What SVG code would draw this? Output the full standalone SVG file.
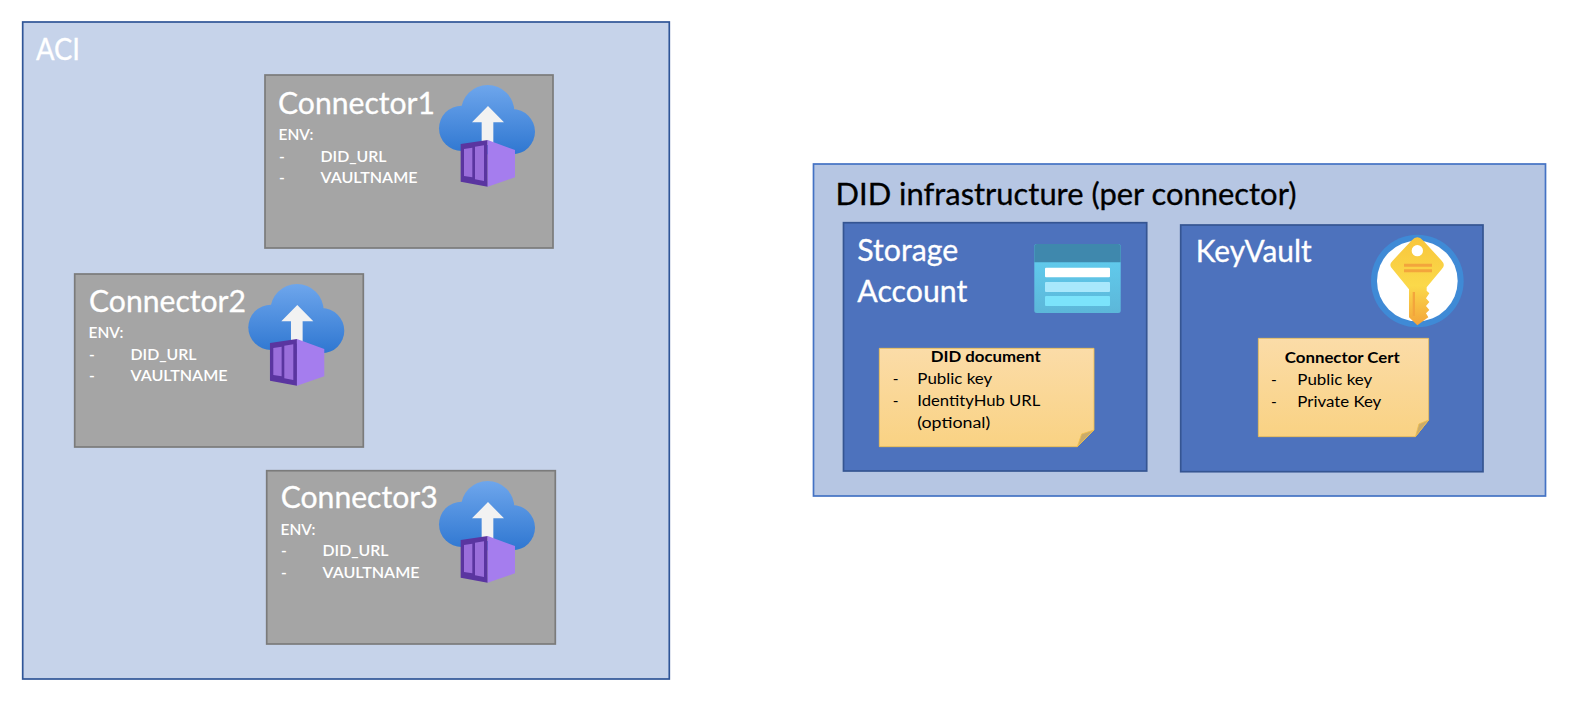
<svg xmlns="http://www.w3.org/2000/svg" width="1578" height="712" viewBox="0 0 1578 712">
<style>
text{font-family:Lato,"Liberation Sans",sans-serif;white-space:pre}
.big{font-size:30px;fill:#fff;stroke:#fff;stroke-width:0.3}
.dark{font-size:30px;fill:#000;stroke:#000;stroke-width:0.3}
.env{font-size:15.5px;fill:#fff;font-weight:600}
.note{font-size:15.5px;fill:#000}
.nb{font-size:15.5px;fill:#000;font-weight:700;text-anchor:middle}
.cbox{fill:#a5a5a5;stroke:#7b7b7b;stroke-width:1.7}
.ibox{fill:#4d72bd;stroke:#355592;stroke-width:1.7}
</style>
<defs>
<linearGradient id="cloudG" gradientUnits="userSpaceOnUse" x1="0" y1="45" x2="0" y2="252"><stop offset="0" stop-color="#6ea6ec"/><stop offset="1" stop-color="#2f77d1"/></linearGradient>
<linearGradient id="noteG" x1="0" y1="0" x2="0" y2="1"><stop offset="0" stop-color="#fbdca8"/><stop offset="1" stop-color="#f9d283"/></linearGradient>
<linearGradient id="keyG" gradientUnits="userSpaceOnUse" x1="0" y1="22" x2="0" y2="286"><stop offset="0" stop-color="#f8c63c"/><stop offset="0.55" stop-color="#fbd94a"/><stop offset="1" stop-color="#f3a43a"/></linearGradient>
<linearGradient id="stG" x1="0" y1="0" x2="0" y2="1"><stop offset="0" stop-color="#62d0f2"/><stop offset="1" stop-color="#5cb7d9"/></linearGradient>
<g id="aciIcon" transform="translate(260,70) scale(0.33333)">
<g fill="url(#cloudG)"><circle cx="683" cy="125" r="80"/><circle cx="605" cy="175" r="68"/><circle cx="757" cy="185" r="68"/><rect x="605" y="150" width="152" height="103"/></g>
<path fill="#f2f2f2" d="M684 108L732 157H700V225H665V157H636Z"/>
<path fill="#5a35a0" d="M602 222L683 210V350L602 335Z"/>
<path fill="#a57dee" d="M683 210L765 240V322L683 350Z"/>
<path fill="#9a6edb" d="M612 237L637 233V322L612 318ZM645 230L672 226V333L645 328Z"/>
</g>
<g id="noteShape">
<path fill="url(#noteG)" stroke="#f0bf4c" stroke-width="2.5" d="M0 0H644V245L594 295H0Z"/>
<path fill="#c9ab6c" stroke="#f0bf4c" stroke-width="2.5" d="M594 295L607 257L644 245Z"/>
</g>
</defs>

<g id="aci">
<rect x="22.7" y="22" width="646.6" height="657" fill="#c6d3ea" stroke="#2f5597" stroke-width="1.7"/>
<text class="big" x="36" y="60" textLength="44" lengthAdjust="spacingAndGlyphs">ACI</text>
</g>

<g id="connector1">
<rect class="cbox" x="265" y="75" width="288" height="173"/>
<text class="big" x="278" y="114" textLength="157" lengthAdjust="spacingAndGlyphs">Connector1</text>
<text class="env" x="278.5" y="140" textLength="35" lengthAdjust="spacingAndGlyphs">ENV:</text>
<text class="env" x="279" y="161.7">-</text>
<text class="env" x="320.5" y="161.7" textLength="66" lengthAdjust="spacingAndGlyphs">DID_URL</text>
<text class="env" x="279" y="183.3">-</text>
<text class="env" x="320.5" y="183.3" textLength="97" lengthAdjust="spacingAndGlyphs">VAULTNAME</text>
<use href="#aciIcon"/>
</g>

<g id="connector2">
<rect class="cbox" x="74.7" y="274" width="288.6" height="173"/>
<text class="big" x="89" y="312" textLength="157" lengthAdjust="spacingAndGlyphs">Connector2</text>
<text class="env" x="88.5" y="338" textLength="35" lengthAdjust="spacingAndGlyphs">ENV:</text>
<text class="env" x="89" y="359.7">-</text>
<text class="env" x="130.5" y="359.7" textLength="66" lengthAdjust="spacingAndGlyphs">DID_URL</text>
<text class="env" x="89" y="381.3">-</text>
<text class="env" x="130.5" y="381.3" textLength="97" lengthAdjust="spacingAndGlyphs">VAULTNAME</text>
<use href="#aciIcon" transform="translate(-190.7,199)"/>
</g>

<g id="connector3">
<rect class="cbox" x="266.7" y="470.7" width="288.6" height="173.3"/>
<text class="big" x="280.7" y="508" textLength="157" lengthAdjust="spacingAndGlyphs">Connector3</text>
<text class="env" x="280.5" y="534.5" textLength="35" lengthAdjust="spacingAndGlyphs">ENV:</text>
<text class="env" x="281" y="556">-</text>
<text class="env" x="322.5" y="556" textLength="66" lengthAdjust="spacingAndGlyphs">DID_URL</text>
<text class="env" x="281" y="577.7">-</text>
<text class="env" x="322.5" y="577.7" textLength="97" lengthAdjust="spacingAndGlyphs">VAULTNAME</text>
<use href="#aciIcon" transform="translate(0,396)"/>
</g>

<g id="did-infrastructure">
<rect x="813.5" y="164" width="732" height="332" fill="#b6c6e3" stroke="#4472c4" stroke-width="1.7"/>
<text class="dark" x="835.5" y="205" textLength="461" lengthAdjust="spacingAndGlyphs">DID infrastructure (per connector)</text>
</g>

<g id="storage-account">
<rect class="ibox" x="843.5" y="222.7" width="303.2" height="248.3"/>
<text class="big" x="857.3" y="260.7" textLength="101" lengthAdjust="spacingAndGlyphs">Storage</text>
<text class="big" x="857.3" y="301.7" textLength="110" lengthAdjust="spacingAndGlyphs">Account</text>
<g id="storage-icon">
<rect x="1034.3" y="244" width="86.4" height="69" rx="2.5" fill="url(#stG)"/>
<path fill="#3f88ad" d="M1036.8 244H1118.2Q1120.7 244 1120.7 246.5V262.3H1034.3V246.5Q1034.3 244 1036.8 244Z"/>
<rect x="1045" y="267.7" width="65" height="9.6" rx="1" fill="#fff"/>
<rect x="1045" y="282" width="65" height="10" rx="1" fill="#a9e8fc"/>
<rect x="1045" y="296" width="65" height="10" rx="1" fill="#7be3fb"/>
</g>
<g id="did-document">
<use href="#noteShape" transform="translate(830,215) scale(0.33333) translate(148,400)"/>
<text class="nb" x="985.7" y="361.7" textLength="110" lengthAdjust="spacingAndGlyphs">DID document</text>
<text class="note" x="892.7" y="384">-</text>
<text class="note" x="917.3" y="384" textLength="75" lengthAdjust="spacingAndGlyphs">Public key</text>
<text class="note" x="892.7" y="406">-</text>
<text class="note" x="917.3" y="406" textLength="123" lengthAdjust="spacingAndGlyphs">IdentityHub URL</text>
<text class="note" x="917.3" y="427.7" textLength="73" lengthAdjust="spacingAndGlyphs">(optional)</text>
</g>
</g>

<g id="keyvault">
<rect class="ibox" x="1180.7" y="225" width="302.3" height="246.7"/>
<text class="big" x="1195.7" y="262.3" textLength="116" lengthAdjust="spacingAndGlyphs">KeyVault</text>
<g id="key-icon" transform="translate(1360,230) scale(0.33333)">
<circle cx="172" cy="153" r="139" fill="#3f8ad6"/>
<circle cx="172" cy="153" r="121" fill="#fff"/>
<path fill="url(#keyG)" d="M172 22Q180 22 190 32L245 92Q258 105 245 118L200 172V182L208 190L198 205L208 216L198 228L208 240L198 250L205 262L172 286L147 262V178L98 118Q84 105 98 92L154 32Q164 22 172 22Z"/>
<circle cx="172" cy="62" r="17" fill="#fff"/>
<path fill="#f3a53c" d="M132 101H216V110H132ZM132 118H216V127H132ZM158 186H165V258H158Z"/>
</g>
<g id="connector-cert">
<use href="#noteShape" transform="translate(1165,215) scale(0.33333) translate(280,370) scale(0.7935,1)"/>
<text class="nb" x="1342.3" y="362.7" textLength="115" lengthAdjust="spacingAndGlyphs">Connector Cert</text>
<text class="note" x="1271" y="385">-</text>
<text class="note" x="1297.3" y="385" textLength="75" lengthAdjust="spacingAndGlyphs">Public key</text>
<text class="note" x="1271" y="406.7">-</text>
<text class="note" x="1297.3" y="406.7" textLength="84" lengthAdjust="spacingAndGlyphs">Private Key</text>
</g>
</g>
</svg>
